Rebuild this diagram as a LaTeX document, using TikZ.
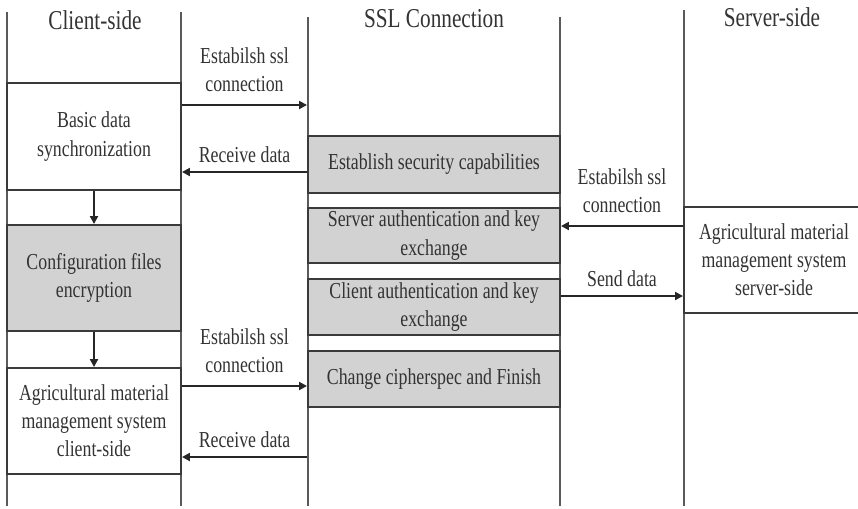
\documentclass[tikz,border=0pt]{standalone}
\usepackage{fontspec}
\setmainfont{Liberation Serif}[FakeStretch=0.78]
\usetikzlibrary{arrows.meta}
\newcommand\pxl{0.02cm}
\definecolor{edge}{HTML}{3A3A3A}
\definecolor{lane}{HTML}{5A5A5A}
\definecolor{shade}{HTML}{D2D2D2}

\begin{document}
\begin{tikzpicture}[
    x=\pxl, y=-\pxl,
    box/.style = {
      draw=edge,
      line width=1.1pt,
      align=center,
      inner sep=0pt,
      text=black!80,
      font=\fontsize{13}{16}\selectfont,
    },
    cbox/.style = {
      box,
      minimum width=174*\pxl,
      minimum height=106*\pxl,
    },
    sbox/.style = {
      box,
      fill=shade,
      minimum width=252*\pxl,
      minimum height=56*\pxl,
    },
    lanes/.style = {
      draw=lane,
      line width=0.8pt,
    },
    arr/.style = {
      draw=black!85,
      line width=1.1pt,
      -{Triangle[length=4.5pt,width=4.5pt]},
    },
    lbl/.style = {
      align=center,
      inner sep=0pt,
      text=black!80,
      font=\fontsize{13}{16}\selectfont,
    },
    title/.style = {
      text=black!80,
      inner sep=0pt,
      font=\fontsize{15.5}{18}\selectfont,
    },
  ]
  \useasboundingbox (0,0) rectangle (858,508);
  \foreach \x/\t in {7/12, 181/12, 308/17, 560/17, 684/10}
    \draw[lanes] (\x,\t) -- (\x,506);

  \node[title] (tcli) at (95,20) {Client-side};
  \node[title] (tssl) at (434,19) {SSL Connection};
  \node[title] (tsrv) at (772,17) {Server-side};

  \node[cbox, minimum height=107*\pxl] (basic) at (94,136.5) {Basic data\\synchronization};
  \node[cbox, fill=shade] (config) at (94,278) {Configuration files\\encryption};
  \node[cbox] (agri) at (94,421) {Agricultural material\\management system\\client-side};

  \node[sbox, minimum height=57*\pxl] (cap) at (434,164.5) {Establish security capabilities};
  \node[sbox, minimum height=55*\pxl] (sauth) at (434,235.5) {Server authentication and key\\exchange};
  \node[sbox] (cauth) at (434,307) {Client authentication and key\\exchange};
  \node[sbox] (change) at (434,379) {Change cipherspec and Finish};

  \node[cbox, minimum width=180*\pxl] (srv) at (774,260) {Agricultural material\\management system\\server-side};

  \coordinate (y1) at (0,105);
  \coordinate (y2) at (0,172);
  \coordinate (y3) at (0,226);
  \coordinate (y4) at (0,296);
  \coordinate (y5) at (0,386);
  \coordinate (y6) at (0,457);

  \draw[arr] (basic) -- (config);
  \draw[arr] (config) -- (agri);

  \draw[arr] (basic.east |- y1) -- (cap.west |- y1)
    node[lbl, midway, above=7pt] {Estabilsh ssl\\connection};
  \draw[arr] (cap.west |- y2) -- (basic.east |- y2)
    node[lbl, midway, above=5pt] {Receive data};
  \draw[arr] (srv.west |- y3) -- (sauth.east |- y3)
    node[lbl, midway, above=7pt] {Estabilsh ssl\\connection};
  \draw[arr] (cauth.east |- y4) -- (srv.west |- y4)
    node[lbl, midway, above=5pt] {Send data};
  \draw[arr] (agri.east |- y5) -- (change.west |- y5)
    node[lbl, midway, above=7pt] {Estabilsh ssl\\connection};
  \draw[arr] (change.west |- y6) -- (agri.east |- y6)
    node[lbl, midway, above=5pt] {Receive data};

\end{tikzpicture}
\end{document}
